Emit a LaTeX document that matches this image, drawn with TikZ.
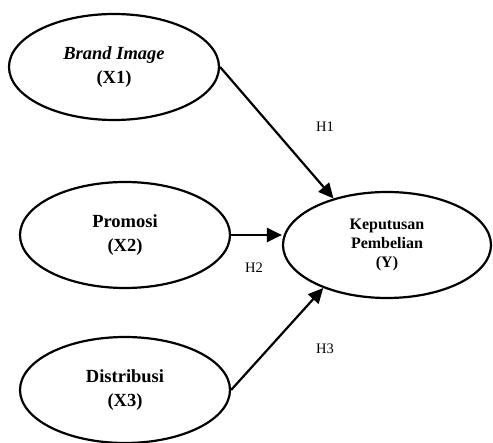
\documentclass[tikz,border=0pt]{standalone}
\usepackage{fontspec}
\setmainfont{Liberation Serif}
\usetikzlibrary{shapes.geometric,arrows.meta}
\begin{document}
\begin{tikzpicture}[x=1pt,y=-1pt,
  latent/.style={draw, ellipse, line width=2.2pt, inner sep=0pt, align=center,
    minimum width=210pt, minimum height=106pt, font=\fontsize{18.5}{24}\selectfont\bfseries},
  hyp/.style={font=\fontsize{14.5}{16}\selectfont},
  conn/.style={line width=2.2pt, -{Triangle[length=15pt,width=14pt]}}]
\useasboundingbox (0,0) rectangle (493,443);
\node[latent] (x1) at (114,67) {\textit{Brand Image}\\(X1)};
\node[latent] (x2) at (125,235) {Promosi\\(X2)};
\node[latent] (x3) at (125,390) {Distribusi\\(X3)};
\node[latent, minimum width=208pt, font=\fontsize{16}{19}\selectfont\bfseries] (y) at (387,245) {Keputusan\\Pembelian\\(Y)};
\coordinate (h2end) at (y.west |- x2.east);
\draw[conn] (x1.east) -- (y.139);
\draw[conn] (x2.east) -- (h2end);
\draw[conn] (x3.east) -- (y.214);
\node[hyp] (h1) at (325,127) {H1};
\node[hyp] (h2) at (254,268) {H2};
\node[hyp] (h3) at (325,349) {H3};
\end{tikzpicture}
\end{document}
